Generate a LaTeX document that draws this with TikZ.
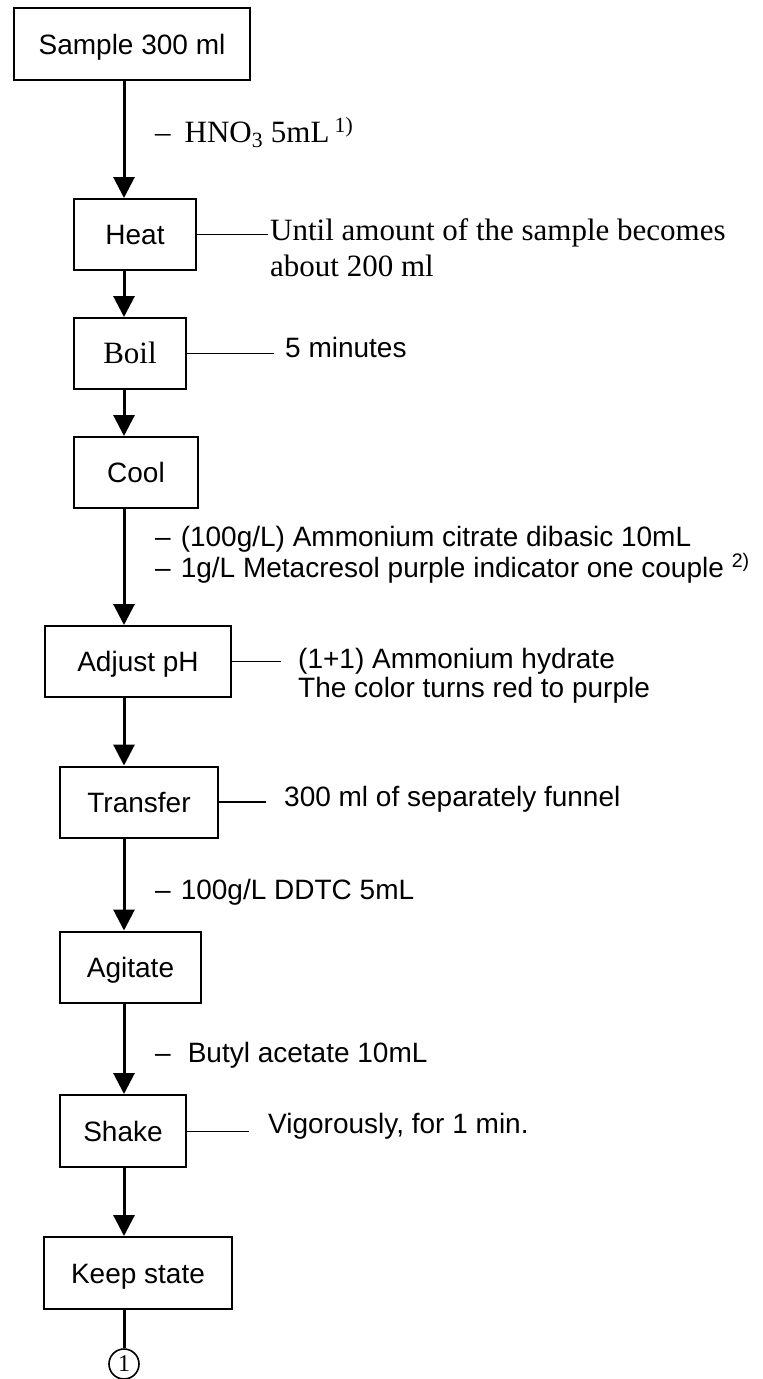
\documentclass[tikz,border=0pt]{standalone}
\usepackage{fontspec}
\setmainfont{Liberation Serif}
\setsansfont{Liberation Sans}
\usetikzlibrary{arrows.meta,calc}
\tikzset{
  stepbox/.style={draw, line width=2pt, inner sep=0pt, minimum height=71pt,
    text height=20pt, text depth=0pt, font=\sffamily\fontsize{28}{30}\selectfont},
  flow/.style={line width=3pt, -{Triangle[length=21pt,width=21pt]}},
  lead/.style={line width=1.4pt},
  sfl/.style={anchor=base west, inner sep=0pt, font=\sffamily\fontsize{28}{30}\selectfont},
  sel/.style={anchor=base west, inner sep=0pt, font=\rmfamily\fontsize{31}{34}\selectfont},
}
\begin{document}
\begin{tikzpicture}[x=1pt,y=-1pt]
\fill[white] (0,0) rectangle (763,1379);
\useasboundingbox (0,0) rectangle (763,1379);
\coordinate (ax) at (124,0);
% boxes
\node[stepbox, minimum width=236pt, minimum height=72pt] (sample) at (132,44) {Sample 300 ml};
\node[stepbox, minimum width=122pt] (heat) at (135,234.5) {Heat};
\node[stepbox, minimum width=112pt, font=\rmfamily\fontsize{31}{34}\selectfont] (boil) at (130,353.5) {Boil};
\node[stepbox, minimum width=124pt] (cool) at (136,472.5) {Cool};
\node[stepbox, minimum width=186pt] (adjust) at (138,661.5) {Adjust pH};
\node[stepbox, minimum width=158pt] (transfer) at (139,802) {Transfer};
\node[stepbox, minimum width=141pt] (agitate) at (130.5,967) {Agitate};
\node[stepbox, minimum width=126pt, minimum height=72pt] (shake) at (123,1131) {Shake};
\node[stepbox, minimum width=188pt, minimum height=72pt] (keep) at (138,1273) {Keep state};
\node[circle, draw, line width=1.6pt, minimum size=30pt, inner sep=0pt,
  font=\rmfamily\fontsize{24}{24}\selectfont] (end) at (124,1364) {1};
% main flow
\draw[flow] (sample.south -| ax) -- (heat.north -| ax);
\draw[flow] (heat.south -| ax) -- (boil.north -| ax);
\draw[flow] (boil.south -| ax) -- (cool.north -| ax);
\draw[flow] (cool.south -| ax) -- (adjust.north -| ax);
\draw[flow] (adjust.south -| ax) -- (transfer.north -| ax);
\draw[flow] (transfer.south -| ax) -- (agitate.north -| ax);
\draw[flow] (agitate.south -| ax) -- (shake.north -| ax);
\draw[flow] (shake.south -| ax) -- (keep.north -| ax);
\draw[line width=3pt] (keep.south -| ax) -- (end.north);
% reagent labels
\node[sel] (hno) at (155,142) {\textendash\hspace{14pt}HNO\textsubscript{3} 5mL\,\textsuperscript{1)}};
\node[sfl] (amm) at (155,546) {\textendash\hspace{10pt}(100g/L) Ammonium citrate dibasic 10mL};
\node[sfl] (meta) at (155,577) {\textendash\hspace{10pt}1g/L Metacresol purple indicator one couple \textsuperscript{2)}};
\node[sfl] (ddtc) at (155,899) {\textendash\hspace{10pt}100g/L DDTC 5mL};
\node[sfl] (butyl) at (155,1062) {\textendash\hspace{17pt}Butyl acetate 10mL};
% side notes
\node[sel] (until1) at (270,240) {Until amount of the sample becomes};
\node[sel] (until2) at (270,276) {about 200 ml};
\draw[lead] (heat.east) -- ($(until1.west |- heat.east)+(-2,0)$);
\node[sfl] (boillbl) at (285,357) {5 minutes};
\draw[lead] (boil.east) -- ($(boillbl.west |- boil.east)+(-11,0)$);
\node[sfl] (adj1) at (298,668) {(1+1) Ammonium hydrate};
\node[sfl] (adj2) at (298,697) {The color turns red to purple};
\draw[lead] (adjust.east) -- ($(adj1.west |- adjust.east)+(-17,0)$);
\node[sfl] (trlbl) at (284,806) {300 ml of separately funnel};
\draw[lead] (transfer.east) -- ($(trlbl.west |- transfer.east)+(-18,0)$);
\node[sfl] (shlbl) at (268,1133) {Vigorously, for 1 min.};
\draw[line width=1pt] (shake.east) -- ($(shlbl.west |- shake.east)+(-19,0)$);
\end{tikzpicture}
\end{document}
